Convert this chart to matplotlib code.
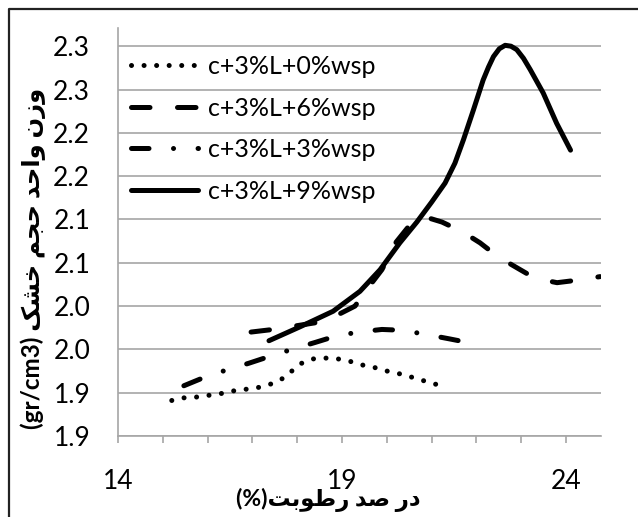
import matplotlib
matplotlib.use("Agg")
import matplotlib.pyplot as plt
from matplotlib.lines import Line2D

# moisture (%) and dry unit weight (gr/cm3)
x_0wsp = [15.20, 15.46, 15.76, 16.03, 16.30, 16.57, 16.86, 17.13, 17.41, 17.66, 17.88,
          18.10, 18.36, 18.62, 18.91, 19.19, 19.45, 19.73, 20.00, 20.27, 20.55, 20.81, 21.07, 21.34]
y_0wsp = [1.891, 1.894, 1.895, 1.897, 1.899, 1.902, 1.904, 1.906, 1.910, 1.916, 1.925,
          1.934, 1.939, 1.940, 1.939, 1.936, 1.932, 1.929, 1.925, 1.922, 1.918, 1.914, 1.910, 1.907]

x_6wsp = [16.97, 17.46, 17.95, 18.44, 18.91, 19.29, 19.58, 19.89, 20.21, 20.52, 20.85,
          21.23, 21.68, 22.08, 22.48, 22.91, 23.31, 23.80, 24.27, 24.76]
y_6wsp = [1.970, 1.973, 1.977, 1.981, 1.990, 2.000, 2.021, 2.042, 2.074, 2.094, 2.103,
          2.097, 2.086, 2.073, 2.057, 2.044, 2.032, 2.027, 2.030, 2.034]

x_3wsp = [15.47, 15.94, 16.41, 16.92, 17.39, 17.88, 18.40, 18.84, 19.36, 19.89, 20.36, 20.90, 21.41, 21.90]
y_3wsp = [1.908, 1.918, 1.926, 1.934, 1.942, 1.950, 1.958, 1.965, 1.970, 1.973, 1.972, 1.967, 1.962, 1.957]

x_9wsp = [17.37, 18.06, 18.80, 19.40, 19.85, 20.29, 20.67, 21.00, 21.30, 21.52, 21.71,
          21.93, 22.15, 22.27, 22.38, 22.51, 22.64, 22.77, 22.90, 23.05, 23.20, 23.49, 23.79, 24.10]
y_9wsp = [1.960, 1.976, 1.994, 2.017, 2.042, 2.073, 2.097, 2.120, 2.142, 2.165, 2.192,
          2.226, 2.261, 2.276, 2.288, 2.297, 2.301, 2.300, 2.296, 2.286, 2.273, 2.246, 2.211, 2.180]

labels = ["c+3%L+0%wsp", "c+3%L+6%wsp", "c+3%L+3%wsp", "c+3%L+9%wsp"]

y_ticks = [1.85, 1.90, 1.95, 2.00, 2.05, 2.10, 2.15, 2.20, 2.25, 2.30]
y_ticklabels = ["1.9", "1.9", "2.0", "2.0", "2.1", "2.1", "2.2", "2.2", "2.3", "2.3"]
x_ticks = list(range(14, 25))
x_ticklabels = ["14", "", "", "", "", "19", "", "", "", "", "24"]

# persian labels written in visual order with presentation forms (no shaping in matplotlib)
xlabel = "(%)" + "\uFE96\uFE91\uFEEE\uFEC3\uFEAD" + " " + "\uFEAA\uFEBB" + " " + "\uFEAD\uFEA9"
ylabel = ("(gr/cm3) " + "\uFB8F\uFEB8\uFEA7" + " " + "\uFEE2\uFEA0\uFEA3" + " "
          + "\uFEAA\uFEA3\uFE8D\uFEED" + " " + "\uFEE5\uFEAF\uFEED")

plt.rcParams['font.family'] = ['Lato', 'DejaVu Sans']

fig = plt.figure(figsize=(6.38, 5.17), dpi=100)
ax = fig.add_axes([118/638, 1-436/517, 483/638, 408/517])

lw = 3.6
ax.plot(x_0wsp, y_0wsp, color='black', lw=lw, linestyle=(0, (0.01, 2.5)),
        dash_capstyle='round', label=labels[0])
ax.plot(x_6wsp, y_6wsp, color='black', lw=lw, linestyle=(0, (3.7, 5.5)),
        dash_capstyle='round', label=labels[1])
ax.plot(x_3wsp, y_3wsp, color='black', lw=lw, linestyle=(0, (3.5, 4.9, 0.01, 4.9)),
        dash_capstyle='round', label=labels[2])
ax.plot(x_9wsp, y_9wsp, color='black', lw=lw, solid_capstyle='round', label=labels[3])

ax.set_xlim(14, 24.78)
ax.set_ylim(1.85, 2.321)
ax.set_xticks(x_ticks)
ax.set_xticklabels(x_ticklabels)
ax.set_yticks(y_ticks)
ax.set_yticklabels(y_ticklabels)

ax.yaxis.grid(True, color='#a6a6a6', lw=1.2)
ax.set_axisbelow(True)
for s in ['top', 'right']:
    ax.spines[s].set_visible(False)
for s in ['left', 'bottom']:
    ax.spines[s].set_color('#a6a6a6')
    ax.spines[s].set_linewidth(1.2)

ax.tick_params(axis='x', direction='out', length=5, width=1.2, color='#a6a6a6',
               labelsize=19, pad=19)
ax.tick_params(axis='y', length=0, labelsize=19, pad=20)

ax.legend(loc='upper left', bbox_to_anchor=(-0.005, 0.97), frameon=False,
          fontsize=18, handlelength=2.7, handletextpad=0.4, labelspacing=0.74,
          borderaxespad=0.2)

fig.text(328/638, 1-500/517, xlabel, ha='center', va='center', fontsize=16.5,
         fontweight='bold')
fig.text(33/638, 1-258/517, ylabel, ha='center', va='center', rotation=90,
         fontsize=17.5, fontweight='bold')

# outer chart border (cut off on the right and bottom)
fig.add_artist(Line2D([9/638, 9/638, 1.0], [0.0, 1-9/517, 1-9/517],
                      transform=fig.transFigure, color='#222222', lw=1.6))

fig.savefig("out.png", dpi=100)
